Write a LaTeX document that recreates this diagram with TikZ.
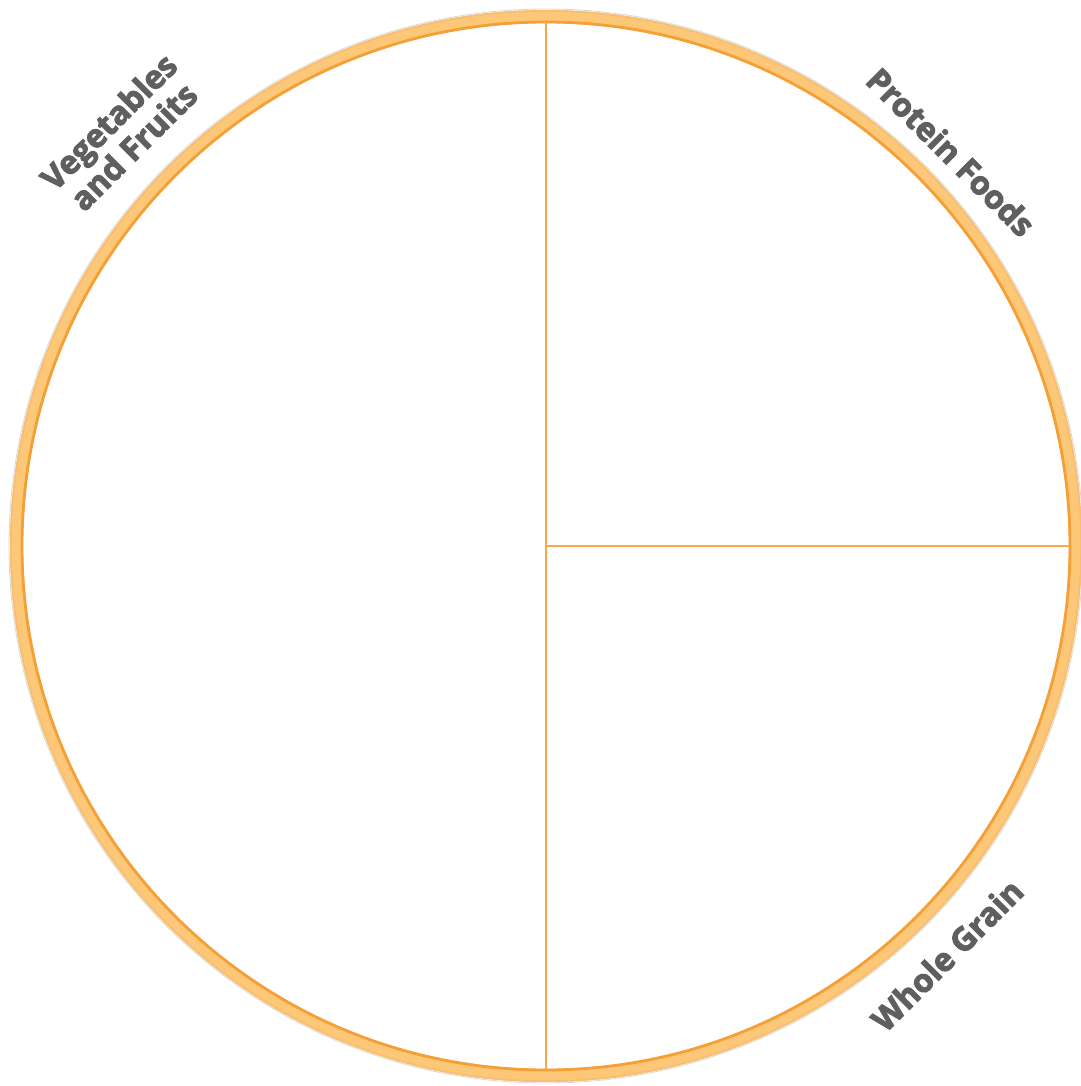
\documentclass[tikz,border=0pt]{standalone}
\usepackage{fontspec}
\setmainfont{Open Sans}
\newfontfamily\platefont[FakeBold=3]{Open Sans Bold}
\usepackage{xcolor}
\usepackage{tikz}
\usetikzlibrary{positioning,calc}
\definecolor{platering}{RGB}{252,200,120}
\definecolor{plateedge}{RGB}{245,160,55}
\definecolor{plateline}{RGB}{246,170,75}
\definecolor{labelgray}{RGB}{94,95,97}
\tikzset{
  ring/.style={draw=platering, line width=9.5pt},
  rimline/.style={draw=plateedge, line width=2pt},
  divider/.style={draw=plateline, line width=1.6pt},
  foodlbl/.style={font=\platefont\fontsize{23}{25}\selectfont, text=labelgray,
                  align=center, inner sep=0pt},
}

\begin{document}
\begin{tikzpicture}[x=0.025cm, y=-0.025cm]
  \useasboundingbox (0,0) rectangle (1080,1086);
  \coordinate (mid) at (546,546);
  \coordinate (top) at (546,20);
  \coordinate (bot) at (546,1070);
  \coordinate (rgt) at (1069,546);
  % plate rim
  \draw[black!15, line width=0.6pt] (mid) circle (537);
  \draw[ring] (mid) circle (529.5);
  \draw[rimline] (mid) circle (524);
  \draw[plateedge!70, line width=1pt] (mid) circle (535);
  % sections
  \draw[divider] (top) -- (bot);
  \draw[divider] (mid) -- (rgt);
  % labels
  \node[foodlbl, rotate=45] (veg) at (121,134) {Vegetables\\and Fruits};
  \node[foodlbl, rotate=-45] (prot) at (951,152) {Protein Foods};
  \node[foodlbl, rotate=45] (grain) at (947,955) {Whole Grain};
\end{tikzpicture}
\end{document}
